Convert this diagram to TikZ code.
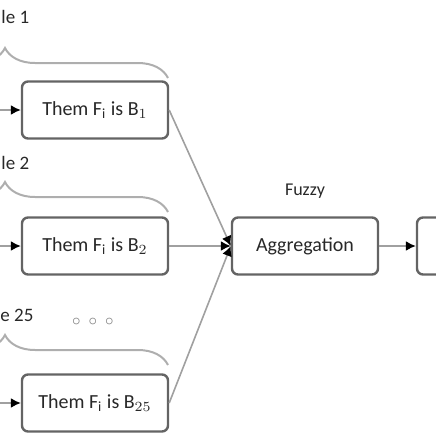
\documentclass[tikz,border=0pt]{standalone}
\usepackage{fontspec}
\setmainfont{Carlito}
\definecolor{edge}{RGB}{100, 100, 100}
\definecolor{wire}{RGB}{160, 160, 160}
\definecolor{ink}{RGB}{40, 40, 40}
\usepackage{tikz}
\usetikzlibrary{arrows.meta, positioning, decorations.pathreplacing}
\tikzset{
    block/.style={rectangle, rounded corners=3pt, minimum width=73pt, minimum height=28.5pt, align=center, draw=edge, line width=1.2pt, fill=white, text=ink, font=\fontsize{10}{12}\selectfont},
    tag/.style={text=ink, font=\fontsize{9.5}{11}\selectfont, inner sep=0pt},
    arrow/.style={line width=0.8pt, wire, -{Latex[length=5pt, width=5pt, black]}},
    rulebrace/.style={decorate, decoration={brace, amplitude=15pt}, line width=1pt, wire!85}
}
\begin{document}
\begin{tikzpicture}[x=0.5pt, y=-0.5pt]
                \path[use as bounding box, clip] (0,0) rectangle (436,436);
                % rule outputs
                \node[block] (then1) at (95, 110) {Them F$_\mathrm{i}$ is B$_1$};
                \node[block] (then2) at (95, 246) {Them F$_\mathrm{i}$ is B$_2$};
                \node[block] (then25) at (95, 403) {Them F$_\mathrm{i}$ is B$_{25}$};
                \node[block] (agg) at (305, 246) {Aggregation};
                \node[block] (defuzz) at (490, 246) {};
                \node[tag, font=\fontsize{9}{11}\selectfont, above=9pt of agg] (fuzzy) {Fuzzy};
                % rule labels
                \node[tag, anchor=west] (rule1) at (1, 17) {le 1};
                \node[tag, anchor=west] (rule2) at (1, 163) {le 2};
                \node[tag, anchor=west] (rule25) at (0, 315) {e 25};
                \node[tag, text=wire!80!black, font=\fontsize{8}{10}\selectfont] (dots) at (93, 322) {$\circ$\hspace{4pt}$\circ$\hspace{4pt}$\circ$};
                % braces
                \draw[rulebrace] (-158, 78) -- (168, 78);
                \draw[rulebrace] (-158, 212) -- (168, 212);
                \draw[rulebrace] (-158, 365) -- (168, 365);
                % inputs
                \coordinate (in1) at (0, 110);
                \coordinate (in2) at (0, 246);
                \coordinate (in25) at (0, 403);
                \draw[arrow] (in1) -- (then1);
                \draw[arrow] (in2) -- (then2);
                \draw[arrow] (in25) -- (then25);
                % aggregation
                \draw[arrow] (then1.east) -- (agg.west);
                \draw[arrow] (then2.east) -- (agg.west);
                \draw[arrow] (then25.east) -- (agg.west);
                \draw[arrow] (agg) -- (defuzz);
            \end{tikzpicture}
\end{document}
